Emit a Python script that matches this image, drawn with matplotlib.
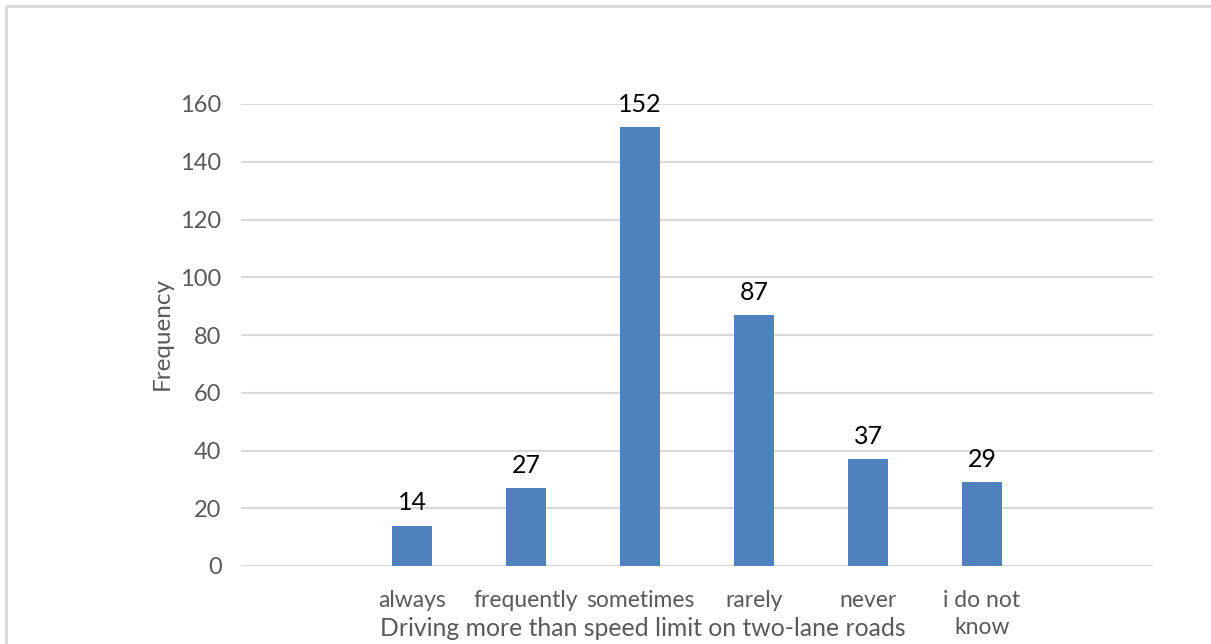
import numpy as np
import matplotlib.pyplot as plt
from matplotlib.patches import Rectangle

# データ
categories = ["", "always", "frequently", "sometimes", "rarely", "never", "i do not\nknow", ""]
values = [None, 14, 27, 152, 87, 37, 29, None]
y_ticks = [0, 20, 40, 60, 80, 100, 120, 140, 160]

plt.rcParams['font.family'] = ['Lato', 'DejaVu Sans']

W, H = 1211, 644
fig = plt.figure(figsize=(W / 100, H / 100), dpi=100)
ax = fig.add_axes([241 / W, 1 - 566 / H, (1153 - 241) / W, (566 - 104) / H])

x = np.arange(len(categories))
bx = [i for i, v in zip(x, values) if v is not None]
bv = [v for v in values if v is not None]
bars = ax.bar(bx, bv, width=0.35, color="#4f81bd", zorder=3)

for xi, v in zip(bx, bv):
  ax.annotate(str(v), (xi, v), xytext=(0, 8), textcoords="offset points",
              ha="center", va="bottom", fontsize=18, color="black")

ax.set_xlim(-0.5, len(categories) - 0.5)
ax.set_ylim(0, 160)
ax.set_yticks(y_ticks)
ax.set_xticks(x)
ax.set_xticklabels(categories, fontsize=16.5, color="#595959", linespacing=1.4)
ax.tick_params(axis="y", labelsize=17, labelcolor="#595959", length=0, pad=14)
ax.tick_params(axis="x", length=0, pad=17)
ax.grid(axis="y", color="#d9d9d9", linewidth=1.5, zorder=0)
for s in ax.spines.values():
  s.set_visible(False)

fig.text(643 / W, 1 - 628 / H, "Driving more than speed limit on two-lane roads",
         ha="center", va="center", fontsize=17.8, color="#595959")
fig.text(162 / W, 1 - 334 / H, "Frequency", rotation=90,
         ha="center", va="center", fontsize=17.5, color="#595959")

# 枠線
fig.patches.append(Rectangle((6 / W, -0.1), 1.2, 1 - 6 / H + 0.1, transform=fig.transFigure,
                             fill=False, edgecolor="#d9d9d9", linewidth=2))

plt.savefig("out.png", dpi=100)
